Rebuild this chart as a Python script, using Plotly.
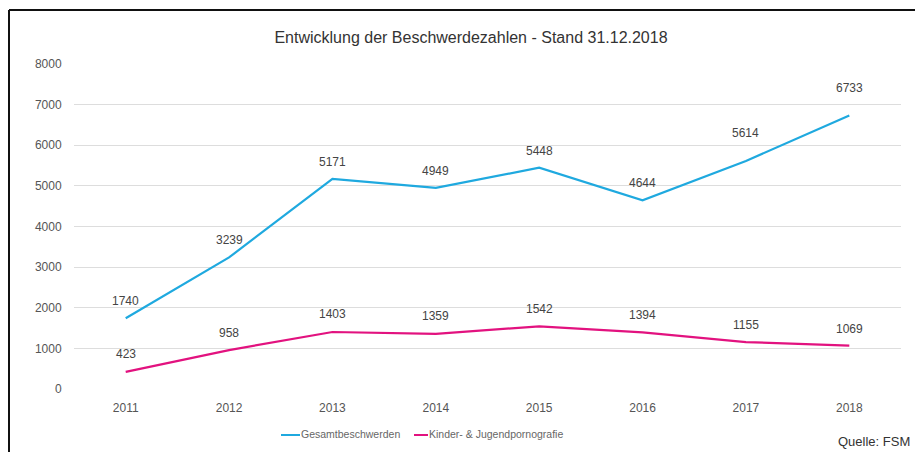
import plotly.graph_objects as go

years = ["2011", "2012", "2013", "2014", "2015", "2016", "2017", "2018"]
gesamt = [1740, 3239, 5171, 4949, 5448, 4644, 5614, 6733]
kinder = [423, 958, 1403, 1359, 1542, 1394, 1155, 1069]
y_ticks = [0, 1000, 2000, 3000, 4000, 5000, 6000, 7000, 8000]

# label offsets (pixels above the point) - styling only
gesamt_label_shift = [17, 17, 17, 17, 17, 17, 28, 27]
kinder_label_shift = [18, 17, 18, 18, 17, 17, 17, 17]

# the page body adds an 8px margin, so the figure is drawn 8px smaller and
# all page coordinates are converted to figure coordinates
OFF = 8
W, H = 923 - OFF, 452 - OFF
L, R, T, B = 74 - OFF, 22, 64 - OFF, 63
pw, ph = W - L - R, H - T - B

def px_x(x):
    return (x - OFF - L) / pw

def px_y(y):
    return (H - B - (y - OFF)) / ph

FONT = "Liberation Sans, Arial, sans-serif"
BLUE = "#1FA9DF"
PINK = "#E2127F"

fig = go.Figure()
fig.add_trace(go.Scatter(x=years, y=gesamt, mode="lines", name="Gesamtbeschwerden",
                         line=dict(color=BLUE, width=2.2), showlegend=False))
fig.add_trace(go.Scatter(x=years, y=kinder, mode="lines", name="Kinder- & Jugendpornografie",
                         line=dict(color=PINK, width=2.2), showlegend=False))

for series, shifts in ((gesamt, gesamt_label_shift), (kinder, kinder_label_shift)):
    for i, (v, s) in enumerate(zip(series, shifts)):
        fig.add_annotation(x=i, y=v, text=str(v), showarrow=False, yshift=s, yanchor="middle",
                           font=dict(family=FONT, size=12, color="#444444"))

# manual legend
legend_items = [("Gesamtbeschwerden", BLUE, 281, 300), ("Kinder- & Jugendpornografie", PINK, 414, 428)]
for name, col, x0, x1 in legend_items:
    fig.add_shape(type="line", xref="paper", yref="paper", x0=px_x(x0), x1=px_x(x1),
                  y0=px_y(435), y1=px_y(435), line=dict(color=col, width=2))
    fig.add_annotation(xref="paper", yref="paper", x=px_x(x1 - 1), y=px_y(434), xanchor="left",
                       yanchor="middle", text=name, showarrow=False,
                       font=dict(family=FONT, size=10.5, color="#666666"))

# frame lines (top and left) of the screenshot
fig.add_shape(type="line", xref="paper", yref="paper", x0=px_x(9), x1=px_x(923), y0=px_y(10), y1=px_y(10),
              line=dict(color="#111111", width=2))
fig.add_shape(type="line", xref="paper", yref="paper", x0=px_x(9), x1=px_x(9), y0=px_y(10), y1=px_y(452),
              line=dict(color="#111111", width=2))

fig.add_annotation(xref="paper", yref="paper", x=px_x(912), y=px_y(441), xanchor="right", yanchor="middle",
                   text="Quelle: FSM", showarrow=False,
                   font=dict(family=FONT, size=13, color="#333333"))

fig.update_layout(
    width=W, height=H,
    margin=dict(l=L, r=R, t=T, b=B),
    paper_bgcolor="white", plot_bgcolor="white",
    title=dict(text="Entwicklung der Beschwerdezahlen - Stand 31.12.2018",
               x=(471 - OFF) / W, xref="container", xanchor="center", y=1 - (37 - OFF) / H,
               yanchor="middle",
               font=dict(family=FONT, size=16, color="#333333")),
    xaxis=dict(type="category", range=[-0.5, 7.5], showgrid=False, zeroline=False, showline=False,
               ticks="outside", ticklen=8, tickcolor="rgba(0,0,0,0)",
               tickfont=dict(family=FONT, size=12, color="#555555")),
    yaxis=dict(range=[0, 8000], tickvals=y_ticks, showgrid=True, gridcolor="#DDDDDD", gridwidth=1,
               zeroline=False, showline=False, ticks="outside", ticklen=9, tickcolor="rgba(0,0,0,0)",
               tickfont=dict(family=FONT, size=12, color="#555555")),
    showlegend=False,
)

fig.write_html("out.html")
